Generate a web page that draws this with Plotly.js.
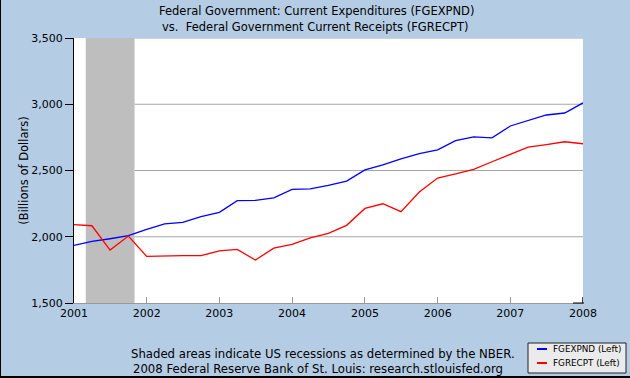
<!DOCTYPE html>
<html>
<head>
<meta charset="utf-8">
<script src="https://cdn.plot.ly/plotly-3.0.1.min.js"></script>
<style>
html,body{margin:0;padding:0;background:#b4cde5;}
#wrap{position:relative;width:630px;height:378px;overflow:hidden;}
#chart{position:absolute;left:0;top:0;width:630px;height:378px;}
.bl{position:absolute;left:0;top:0;width:1px;height:378px;background:#000;}
.bb{position:absolute;left:0;top:376px;width:630px;height:2px;background:#000;}
</style>
</head>
<body>
<div id="wrap"><div id="chart"></div><div class="bl"></div><div class="bb"></div></div>
<script>
// Quarterly dates
const dates = ["2001-01-01","2001-04-01","2001-07-01","2001-10-01",
  "2002-01-01","2002-04-01","2002-07-01","2002-10-01",
  "2003-01-01","2003-04-01","2003-07-01","2003-10-01",
  "2004-01-01","2004-04-01","2004-07-01","2004-10-01",
  "2005-01-01","2005-04-01","2005-07-01","2005-10-01",
  "2006-01-01","2006-04-01","2006-07-01","2006-10-01",
  "2007-01-01","2007-04-01","2007-07-01","2007-10-01",
  "2008-01-01"];
// FGEXPND: Federal Government Current Expenditures (billions of dollars)
const fgexpnd = [1935,1965,1985,2008, 2055,2098,2108,2151, 2184,2272,2274,2294,
  2357,2362,2387,2420, 2505,2543,2588,2628, 2656,2726,2754,2746,
  2836,2879,2919,2934, 3010];
// FGRECPT: Federal Government Current Receipts (billions of dollars)
const fgrecpt = [2091,2083,1899,2005, 1852,1857,1857,1857, 1894,1904,1824,1914,
  1942,1992,2025,2086, 2214,2249,2189,2337, 2443,2475,2508,2566,
  2621,2676,2696,2717, 2702];
const seriesNames = ["FGEXPND (Left)","FGRECPT (Left)"];
const titleLines = ["Federal Government: Current Expenditures (FGEXPND)",
  "vs.  Federal Government Current Receipts (FGRECPT)"];
const footerLines = ["Shaded areas indicate US recessions as determined by the NBER.",
  "2008 Federal Reserve Bank of St. Louis: research.stlouisfed.org"];
const recessionStart = "2001-03-01";
const recessionEnd = "2001-11-01";
const yTicks = [1500,2000,2500,3000,3500];
const xTickVals = ["2001-01-01","2002-01-01","2003-01-01","2004-01-01","2005-01-01","2006-01-01","2007-01-01","2008-01-01"];
const xTickText = ["2001","2002","2003","2004","2005","2006","2007","2008"];

const W = 630, H = 378;
const mL = 74, mR = 47, mT = 38, mB = 75;
const pw = W - mL - mR, ph = H - mT - mB;
const px = X => (X - mL) / pw;
const py = Y => (H - mB - Y) / ph;
const FONT = "DejaVu Sans, Verdana, sans-serif";

const traces = [
  {x: dates, y: fgexpnd, name: seriesNames[0], type: "scatter", mode: "lines",
   line: {color: "#0000ff", width: 1.3}},
  {x: dates, y: fgrecpt, name: seriesNames[1], type: "scatter", mode: "lines",
   line: {color: "#ff0000", width: 1.3}}
];

const shapes = [
  {type: "rect", xref: "x", yref: "paper", x0: recessionStart, x1: recessionEnd, y0: 0, y1: 1,
   fillcolor: "#bebebe", line: {width: 0}, layer: "below"}
];
yTicks.slice(1).forEach(v => shapes.push({
  type: "line", xref: "x", yref: "y", x0: recessionEnd, x1: xTickVals[xTickVals.length-1], y0: v, y1: v,
  line: {color: "#a6a6a6", width: 1}, layer: "below"}));
// dark last tick at 2008
shapes.push({type: "line", xref: "x", yref: "paper", x0: xTickVals[xTickVals.length-1], x1: xTickVals[xTickVals.length-1],
  y0: 0, y1: py(H - mB - 6), line: {color: "#000", width: 1.5}});
shapes.push({type: "line", xref: "paper", yref: "paper", x0: px(573), x1: px(584), y0: 0, y1: 0,
  line: {color: "#000", width: 1}});
// legend box
shapes.push({type: "rect", xref: "paper", yref: "paper", x0: px(528), x1: px(626), y0: py(373), y1: py(343),
  fillcolor: "#ebebeb", line: {color: "#222", width: 1}});
shapes.push({type: "line", xref: "paper", yref: "paper", x0: px(537), x1: px(547), y0: py(349), y1: py(349),
  line: {color: traces[0].line.color, width: 2}});
shapes.push({type: "line", xref: "paper", yref: "paper", x0: px(537), x1: px(547), y0: py(363), y1: py(363),
  line: {color: traces[1].line.color, width: 2}});

const annotations = [
  {text: seriesNames[0], xref: "paper", yref: "paper", x: px(551), y: py(349), xanchor: "left", yanchor: "middle",
   showarrow: false, font: {family: FONT, size: 8.8, color: "#000"}},
  {text: seriesNames[1], xref: "paper", yref: "paper", x: px(551), y: py(363), xanchor: "left", yanchor: "middle",
   showarrow: false, font: {family: FONT, size: 8.8, color: "#000"}},
  {text: footerLines[0], xref: "paper", yref: "paper",
   x: px(129), y: py(354), xanchor: "left", yanchor: "middle", showarrow: false,
   font: {family: FONT, size: 11.7, color: "#000"}},
  {text: footerLines[1], xref: "paper", yref: "paper",
   x: px(131), y: py(369), xanchor: "left", yanchor: "middle", showarrow: false,
   font: {family: FONT, size: 11.7, color: "#000"}},
  {text: titleLines[0], xref: "paper", yref: "paper",
   x: px(316), y: py(11), xanchor: "center", yanchor: "middle", showarrow: false,
   font: {family: FONT, size: 11.5, color: "#000"}},
  {text: titleLines[1], xref: "paper", yref: "paper",
   x: px(315), y: py(27), xanchor: "center", yanchor: "middle", showarrow: false,
   font: {family: FONT, size: 11.5, color: "#000"}}
];

const layout = {
  width: W, height: H,
  margin: {l: mL, r: mR, t: mT, b: mB, pad: 0},
  paper_bgcolor: "#b4cde5",
  plot_bgcolor: "#ffffff",
  showlegend: false,
  font: {family: FONT, size: 11, color: "#000"},
  xaxis: {type: "date", range: [xTickVals[0], xTickVals[xTickVals.length-1]],
    tickmode: "array", tickvals: xTickVals, ticktext: xTickText,
    showgrid: false, zeroline: false, showline: true, linecolor: "#999999", linewidth: 1,
    ticks: "inside", ticklen: 6, tickcolor: "#999999", tickwidth: 1,
    tickfont: {family: FONT, size: 11, color: "#000"}, fixedrange: true},
  yaxis: {range: [yTicks[0], yTicks[yTicks.length-1]], tickmode: "array", tickvals: yTicks,
    tickformat: ",", showgrid: false, zeroline: false, showline: true, linecolor: "#000", linewidth: 1,
    ticks: "outside", ticklen: 8, tickcolor: "#000", tickwidth: 1,
    tickfont: {family: FONT, size: 11, color: "#000"},
    title: {text: "(Billions of Dollars)", font: {family: FONT, size: 11.5, color: "#000"}, standoff: 0},
    automargin: false, fixedrange: true},
  shapes: shapes,
  annotations: annotations
};

Plotly.newPlot("chart", traces, layout, {displayModeBar: false, staticPlot: true});
</script>
</body>
</html>
